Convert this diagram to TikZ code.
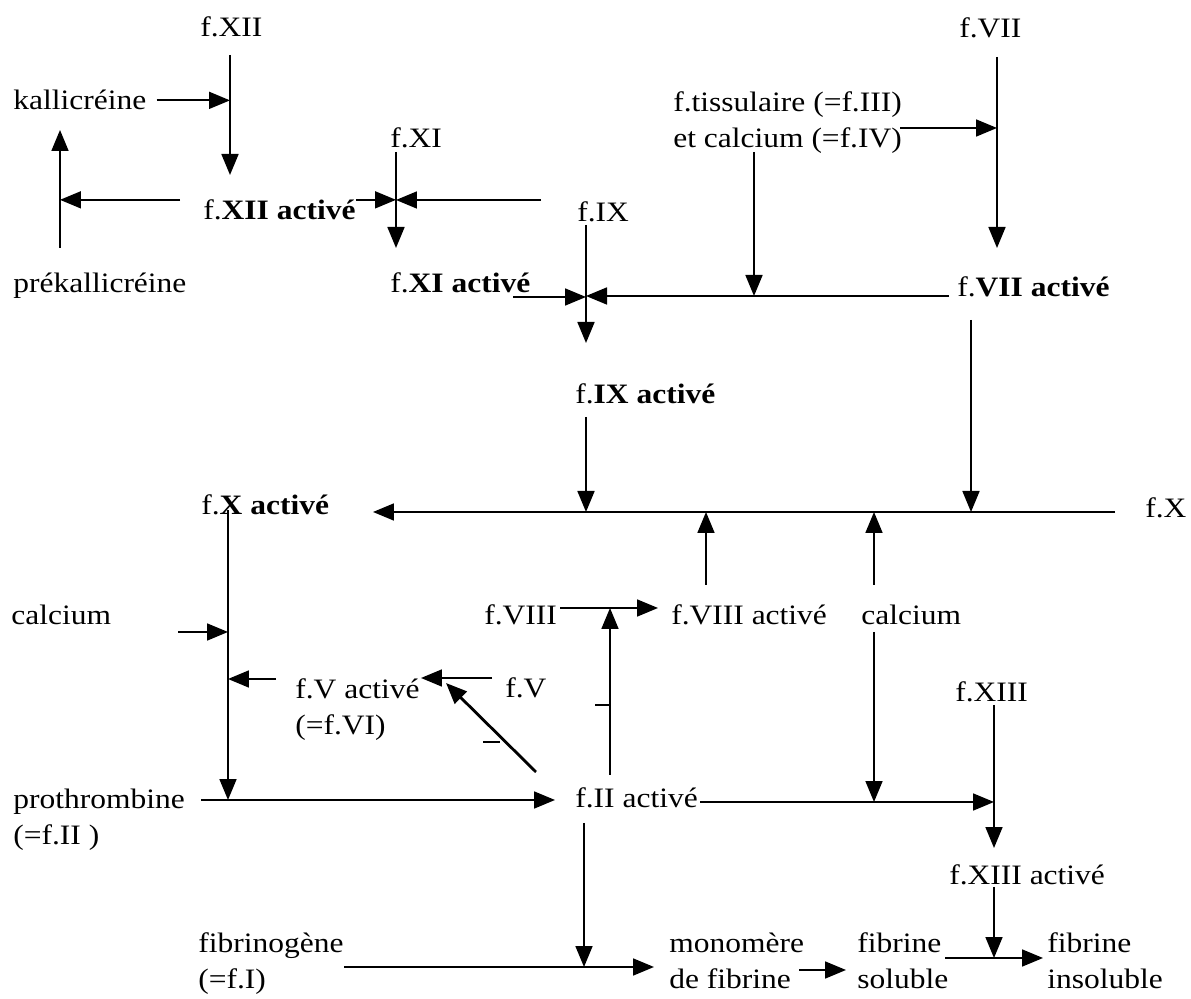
\documentclass[tikz,border=0pt]{standalone}
\usepackage{fontspec}
\setmainfont{Liberation Serif}[FakeStretch=1.12]
\usetikzlibrary{arrows.meta}

\begin{document}
\begin{tikzpicture}[x=0.02cm, y=-0.02cm, lbl/.style={anchor=base west, inner sep=0pt, align=left, font=\fontsize{16}{20.5}\selectfont}, arrow/.style={-{Triangle[length=0.42cm, width=0.34cm]}, line width=1pt}]

\useasboundingbox (0,0) rectangle (1191,999);

\node[lbl] (fXII) at (200,37) {f.XII};
\node[lbl] (kal) at (13,110) {kallicréine};
\node[lbl] (fXI) at (390,148) {f.XI};
\node[lbl] (fXIIa) at (203,220) {f.\textbf{XII activé}};
\node[lbl] (prekal) at (13,293) {prékallicréine};
\node[lbl] (fXIa) at (390,293) {f.\textbf{XI activé}};
\node[lbl] (fVII) at (959,38) {f.VII};
\node[lbl] (tiss) at (673,148) {f.tissulaire (=f.III)\\et calcium (=f.IV)};
\node[lbl] (fIX) at (577,222) {f.IX};
\node[lbl] (fVIIa) at (957,297) {f.\textbf{VII activé}};
\node[lbl] (fIXa) at (575,404) {f.\textbf{IX activé}};
\node[lbl] (fXa) at (201,515) {f.\textbf{X activé}};
\node[lbl] (fX) at (1145,518) {f.X};
\node[lbl] (calcA) at (11,625) {calcium};
\node[lbl] (fVIII) at (484,625) {f.VIII};
\node[lbl] (fVIIIa) at (671,625) {f.VIII activé};
\node[lbl] (calcB) at (861,625) {calcium};
\node[lbl] (fVa) at (295,735) {f.V activé\\(=f.VI)};
\node[lbl] (fV) at (505,698) {f.V};
\node[lbl] (fXIII) at (955,702) {f.XIII};
\node[lbl] (prothr) at (13,845) {prothrombine\\(=f.II )};
\node[lbl] (fIIa) at (575,808) {f.II activé};
\node[lbl] (fXIIIa) at (949,885) {f.XIII activé};
\node[lbl] (fibrino) at (198,989) {fibrinogène\\(=f.I)};
\node[lbl] (mono) at (669,989) {monomère\\de fibrine};
\node[lbl] (fsol) at (857,989) {fibrine\\soluble};
\node[lbl] (finsol) at (1047,989) {fibrine\\insoluble};

\coordinate (xiiT) at (230,55);
\coordinate (xiiB) at (230,175);
\coordinate (preT) at (60,130);
\coordinate (preB) at (60,248);
\coordinate (xiT) at (396,152);
\coordinate (xiB) at (396,248);
\coordinate (xiR) at (541,200);
\coordinate (xiaL) at (513,297);
\coordinate (ixT) at (586,225);
\coordinate (ixB) at (586,343);
\coordinate (viiT) at (997,57);
\coordinate (viiB) at (997,248);
\coordinate (tissR) at (900,128);
\coordinate (tissD) at (754,152);
\coordinate (viiaL) at (949,296);
\coordinate (ixaT) at (586,417);
\coordinate (viiaD) at (971,320);
\coordinate (xR) at (1115,512);
\coordinate (xL) at (373,512);
\coordinate (viiiaU) at (706,585);
\coordinate (calcU) at (874,585);
\coordinate (xaT) at (228,510);
\coordinate (proL) at (201,800);
\coordinate (proR) at (555,800);
\coordinate (calcR) at (178,632);
\coordinate (vaL) at (276,679);
\coordinate (vR) at (492,678);
\coordinate (vaR) at (421,678);
\coordinate (iiDiag) at (536,772);
\coordinate (vaD) at (446,683);
\coordinate (viiiR) at (560,608);
\coordinate (viiiaL) at (658,608);
\coordinate (iiU) at (610,775);
\coordinate (calcD) at (874,632);
\coordinate (iiL) at (700,802);
\coordinate (xiiiT) at (994,705);
\coordinate (xiiiB) at (994,848);
\coordinate (iiD) at (584,823);
\coordinate (fibL) at (344,967);
\coordinate (fibR) at (654,967);
\coordinate (xiiiaD) at (994,887);
\coordinate (monoR) at (799,970);
\coordinate (solL) at (846,970);
\coordinate (solR) at (945,958);
\coordinate (insL) at (1043,958);

\draw[arrow] (xiiT) -- (xiiB);
\draw[arrow, shorten <=0.2cm] (kal.east) -- (kal.east -| xiiT);
\draw[arrow] (preB) -- (preT);
\draw[arrow, shorten <=0.46cm] (fXIIa.north west) -- (fXIIa.north west -| preT);
\draw[arrow] (fXIIa.north east) -- (fXIIa.north east -| xiT);
\draw[arrow] (xiR) -- (xiR -| xiT);
\draw[arrow] (xiT) -- (xiB);
\draw[arrow] (xiaL) -- (xiaL -| ixT);
\draw[arrow] (viiT) -- (viiB);
\draw[arrow] (tissR) -- (tissR -| viiT);
\draw[arrow] (tissD) -- (tissD |- viiaL);
\draw[arrow] (viiaL) -- (viiaL -| ixT);
\draw[arrow] (ixT) -- (ixB);
\draw[arrow] (ixaT) -- (ixaT |- xL);
\draw[arrow] (viiaD) -- (viiaD |- xL);
\draw[arrow] (xR) -- (xL);
\draw[arrow] (viiiaU) -- (viiiaU |- xL);
\draw[arrow] (calcU) -- (calcU |- xL);
\draw[arrow] (xaT) -- (xaT |- proL);
\draw[arrow] (calcR) -- (calcR -| xaT);
\draw[arrow] (vaL) -- (vaL -| xaT);
\draw[arrow] (vR) -- (vaR);
\draw[arrow, line width=1.6pt] (iiDiag) -- (vaD);
\draw[arrow] (viiiR) -- (viiiaL);
\draw[arrow] (iiU) -- (iiU |- viiiaL);
\draw[arrow] (calcD) -- (calcD |- iiL);
\draw[arrow] (xiiiT) -- (xiiiB);
\draw[arrow] (proL) -- (proR);
\draw[arrow] (iiL) -- (iiL -| xiiiT);
\draw[arrow] (iiD) -- (iiD |- fibL);
\draw[arrow] (fibL) -- (fibR);
\draw[arrow] (xiiiaD) -- (xiiiaD |- solR);
\draw[arrow] (monoR) -- (solL);
\draw[arrow] (solR) -- (insL);

\draw[line width=0.6pt] (483,742) -- (500,742);
\draw[line width=0.6pt] (595,705) -- (611,705);

\end{tikzpicture}
\end{document}
